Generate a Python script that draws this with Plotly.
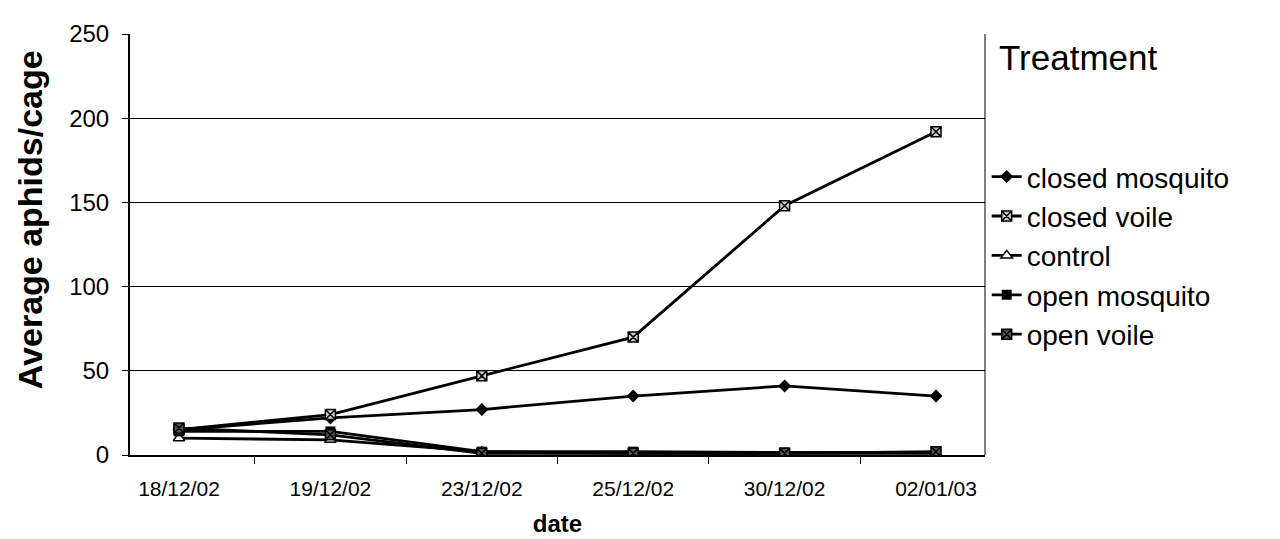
import plotly.graph_objects as go

dates = ["18/12/02", "19/12/02", "23/12/02", "25/12/02", "30/12/02", "02/01/03"]
closed_mosquito = [15, 22, 27, 35, 41, 35]
closed_voile = [15, 24, 47, 70, 148, 192]
control = [10, 9, 2, 1, 1, 1]
open_mosquito = [14, 14, 2, 2, 1.5, 1.5]
open_voile = [16, 12, 1, 1, 1, 2]

FONT = "Liberation Sans, Arial, sans-serif"

series = [
    ("closed mosquito", closed_mosquito, dict(symbol="diamond", size=10, color="black")),
    ("closed voile", closed_voile, dict(symbol="square-x", size=10, color="#d0d0d0",
                                        line=dict(color="black", width=1.5))),
    ("control", control, dict(symbol="triangle-up", size=10, color="white",
                              line=dict(color="black", width=1.5))),
    ("open mosquito", open_mosquito, dict(symbol="square", size=10, color="black")),
    ("open voile", open_voile, dict(symbol="square-x", size=10, color="#555555",
                                    line=dict(color="black", width=1.5))),
]

fig = go.Figure()
for name, vals, mk in series:
    fig.add_trace(go.Scatter(x=dates, y=vals, name=name, mode="lines+markers",
                             line=dict(color="black", width=2.8), marker=mk))

fig.update_layout(
    width=1280, height=539,
    margin=dict(l=122, r=303, t=22, b=92),
    paper_bgcolor="white", plot_bgcolor="white",
    font=dict(family=FONT, color="black"),
    showlegend=True,
    legend=dict(x=1.002, y=0.72, xanchor="left", yanchor="top",
                font=dict(size=28, family=FONT), tracegroupgap=0,
                itemwidth=30, bgcolor="rgba(0,0,0,0)"),
    xaxis=dict(type="category", tickson="boundaries", ticks="outside", ticklen=7,
               tickcolor="black", showline=True, linecolor="black", linewidth=1.5,
               showgrid=False, tickfont=dict(size=21), ticklabelstandoff=14,
               title=dict(text="<b>date</b>", font=dict(size=24), standoff=16)),
    yaxis=dict(range=[0, 250], dtick=50, ticks="outside", ticklen=6,
               tickcolor="black", showline=True, linecolor="black", linewidth=2,
               showgrid=True, gridcolor="black", gridwidth=1, zeroline=False,
               tickfont=dict(size=24), ticklabelstandoff=8),
    shapes=[dict(type="line", xref="paper", yref="paper", x0=1, x1=1, y0=0, y1=1,
                 line=dict(color="black", width=1))],
    annotations=[
        dict(text="Treatment", xref="paper", yref="paper", x=1.014, y=0.944,
             xanchor="left", yanchor="middle", showarrow=False,
             font=dict(size=35, family=FONT)),
        dict(text="<b>Average aphids/cage</b>", xref="paper", yref="paper",
             x=-0.117, y=0.56, xanchor="center", yanchor="middle", textangle=-90,
             showarrow=False, font=dict(size=34, family=FONT)),
    ],
)

fig.write_html("out.html")
